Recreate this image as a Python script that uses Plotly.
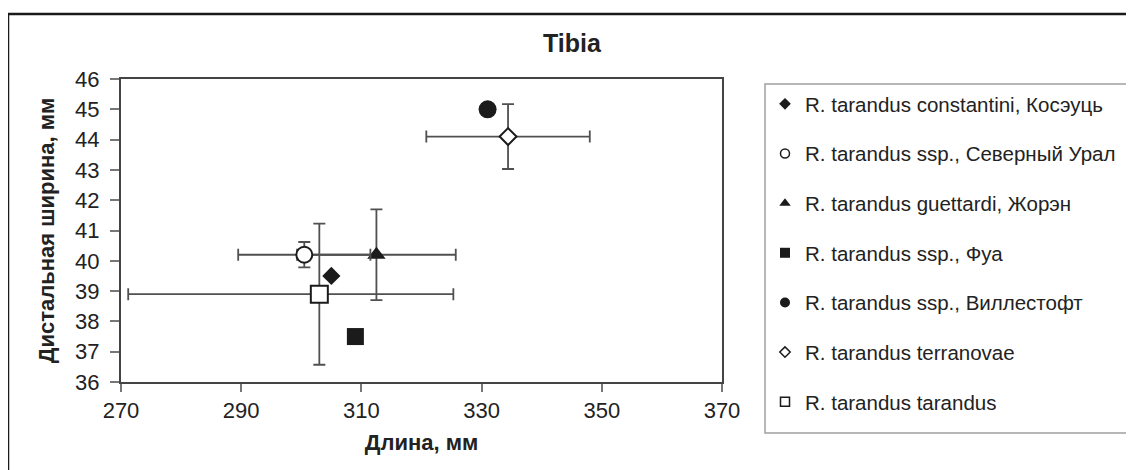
import plotly.graph_objects as go

# ---- data ----
names = [
    "R. tarandus constantini, Косэуць",
    "R. tarandus ssp., Северный Урал",
    "R. tarandus guettardi, Жорэн",
    "R. tarandus ssp., Фуа",
    "R. tarandus ssp., Виллестофт",
    "R. tarandus terranovae",
    "R. tarandus tarandus",
]
length_mm = [305.0, 300.5, 312.5, 309.0, 331.0, 334.4, 303.0]
width_mm = [39.5, 40.2, 40.2, 37.5, 45.0, 44.1, 38.9]
len_err_plus = [None, 11.0, 13.2, None, None, 13.6, 22.3]
len_err_minus = [None, 11.0, 13.2, None, None, 13.6, 31.8]
wid_err = [None, 0.42, 1.5, None, None, 1.07, 2.33]

x_ticks = [270, 290, 310, 330, 350, 370]
y_ticks = [36, 37, 38, 39, 40, 41, 42, 43, 44, 45, 46]

# ---- styles ----
symbols = ["diamond", "circle", "triangle-up", "square", "circle", "diamond", "square"]
filled = [True, False, True, True, True, False, False]
sizes = [14, 16, 16, 17, 18, 13, 17]
legend_sizes = [9, 9, 10, 10, 10, 8, 9]
INK = "#1b1b1b"
BAR = "#505050"
FONT = "Liberation Sans, Arial, sans-serif"

fig = go.Figure()

# draw order: open markers on top
order = [2, 0, 3, 4, 6, 1, 5]
for i in order:
    kw = {}
    if len_err_plus[i] is not None:
        kw["error_x"] = dict(type="data", symmetric=False,
                             array=[len_err_plus[i]], arrayminus=[len_err_minus[i]],
                             color=BAR, thickness=1.8, width=6)
    if wid_err[i] is not None:
        kw["error_y"] = dict(type="data", array=[wid_err[i]], color=BAR,
                             thickness=1.8, width=6)
    fig.add_trace(go.Scatter(
        x=[length_mm[i]], y=[width_mm[i]], mode="markers",
        marker=dict(symbol=symbols[i], size=sizes[i],
                    color=INK if filled[i] else "white",
                    line=dict(color=INK, width=0 if filled[i] else 2)),
        showlegend=False, name=names[i], **kw))

# legend entries (small symbols as in the reference)
for i in range(len(names)):
    fig.add_trace(go.Scatter(
        x=[None], y=[None], mode="markers", name=names[i],
        legendgroup=f"g{i}",
        marker=dict(symbol=symbols[i], size=legend_sizes[i],
                    color=INK if filled[i] else "white",
                    line=dict(color=INK, width=0 if filled[i] else 1.5))))

OFF = 8  # page body margin of the html page
fig_w, fig_h = 1134 - OFF, 470 - OFF
L, T, W, H = 121 - OFF, 79 - OFF, 601, 303  # plot area in figure px


def px_x(p):  # p: page px
    return (p - OFF - L) / W


def px_y(p):  # p: page px
    return (T + H - (p - OFF)) / H


fig.update_layout(
    width=fig_w, height=fig_h,
    margin=dict(l=L, r=fig_w - L - W, t=T, b=fig_h - T - H, autoexpand=False),
    paper_bgcolor="white", plot_bgcolor="white",
    font=dict(family=FONT, color="#222222", size=20),
    title=dict(text="<b>Tibia</b>", x=(572 - OFF) / fig_w, xref="container", xanchor="center",
               y=1 - (43 - OFF) / fig_h, yref="container", yanchor="middle",
               font=dict(size=25, color="#222222")),
    legend=dict(x=px_x(765), y=px_y(84), xanchor="left", yanchor="top",
                borderwidth=0, bgcolor="rgba(0,0,0,0)",
                font=dict(size=20.5, color="#222222"),
                traceorder="grouped", tracegroupgap=20, itemwidth=30,
                maxheight=440),
    xaxis=dict(range=[270, 370], tickvals=x_ticks, ticktext=[str(v) for v in x_ticks],
               showgrid=False, zeroline=False, showline=True, mirror=True,
               linecolor="#444444", linewidth=2, ticks="outside", ticklen=8,
               tickcolor="#777777", tickwidth=1.5, tickfont=dict(size=22),
               ticklabelstandoff=0,
               title=dict(text="<b>Длина, мм</b>", font=dict(size=22), standoff=12)),
    yaxis=dict(range=[36, 46], tickvals=y_ticks, ticktext=[str(v) for v in y_ticks],
               showgrid=False, zeroline=False, showline=True, mirror=True,
               linecolor="#444444", linewidth=2, ticks="outside", ticklen=9,
               tickcolor="#777777", tickwidth=1.5, tickfont=dict(size=22),
               ticklabelstandoff=6,
               title=dict(text="<b>Дистальная ширина, мм</b>", font=dict(size=22), standoff=14)),
)

# legend frame: left, top and bottom edges; it runs past the right edge as in the reference
fig.add_shape(type="rect", xref="paper", yref="paper", layer="below",
              x0=px_x(765), y0=px_y(433), x1=px_x(1160), y1=px_y(84),
              line=dict(color="#a0a0a0", width=1.5), fillcolor="white")

# outer frame (left and top edges visible in the reference)
fig.add_shape(type="line", xref="paper", yref="paper",
              x0=px_x(8), y0=px_y(480), x1=px_x(8), y1=px_y(14),
              line=dict(color="#1a1a1a", width=2.5))
fig.add_shape(type="line", xref="paper", yref="paper",
              x0=px_x(8), y0=px_y(14), x1=px_x(1150), y1=px_y(14),
              line=dict(color="#1a1a1a", width=2.5))

fig.write_html("out.html")
